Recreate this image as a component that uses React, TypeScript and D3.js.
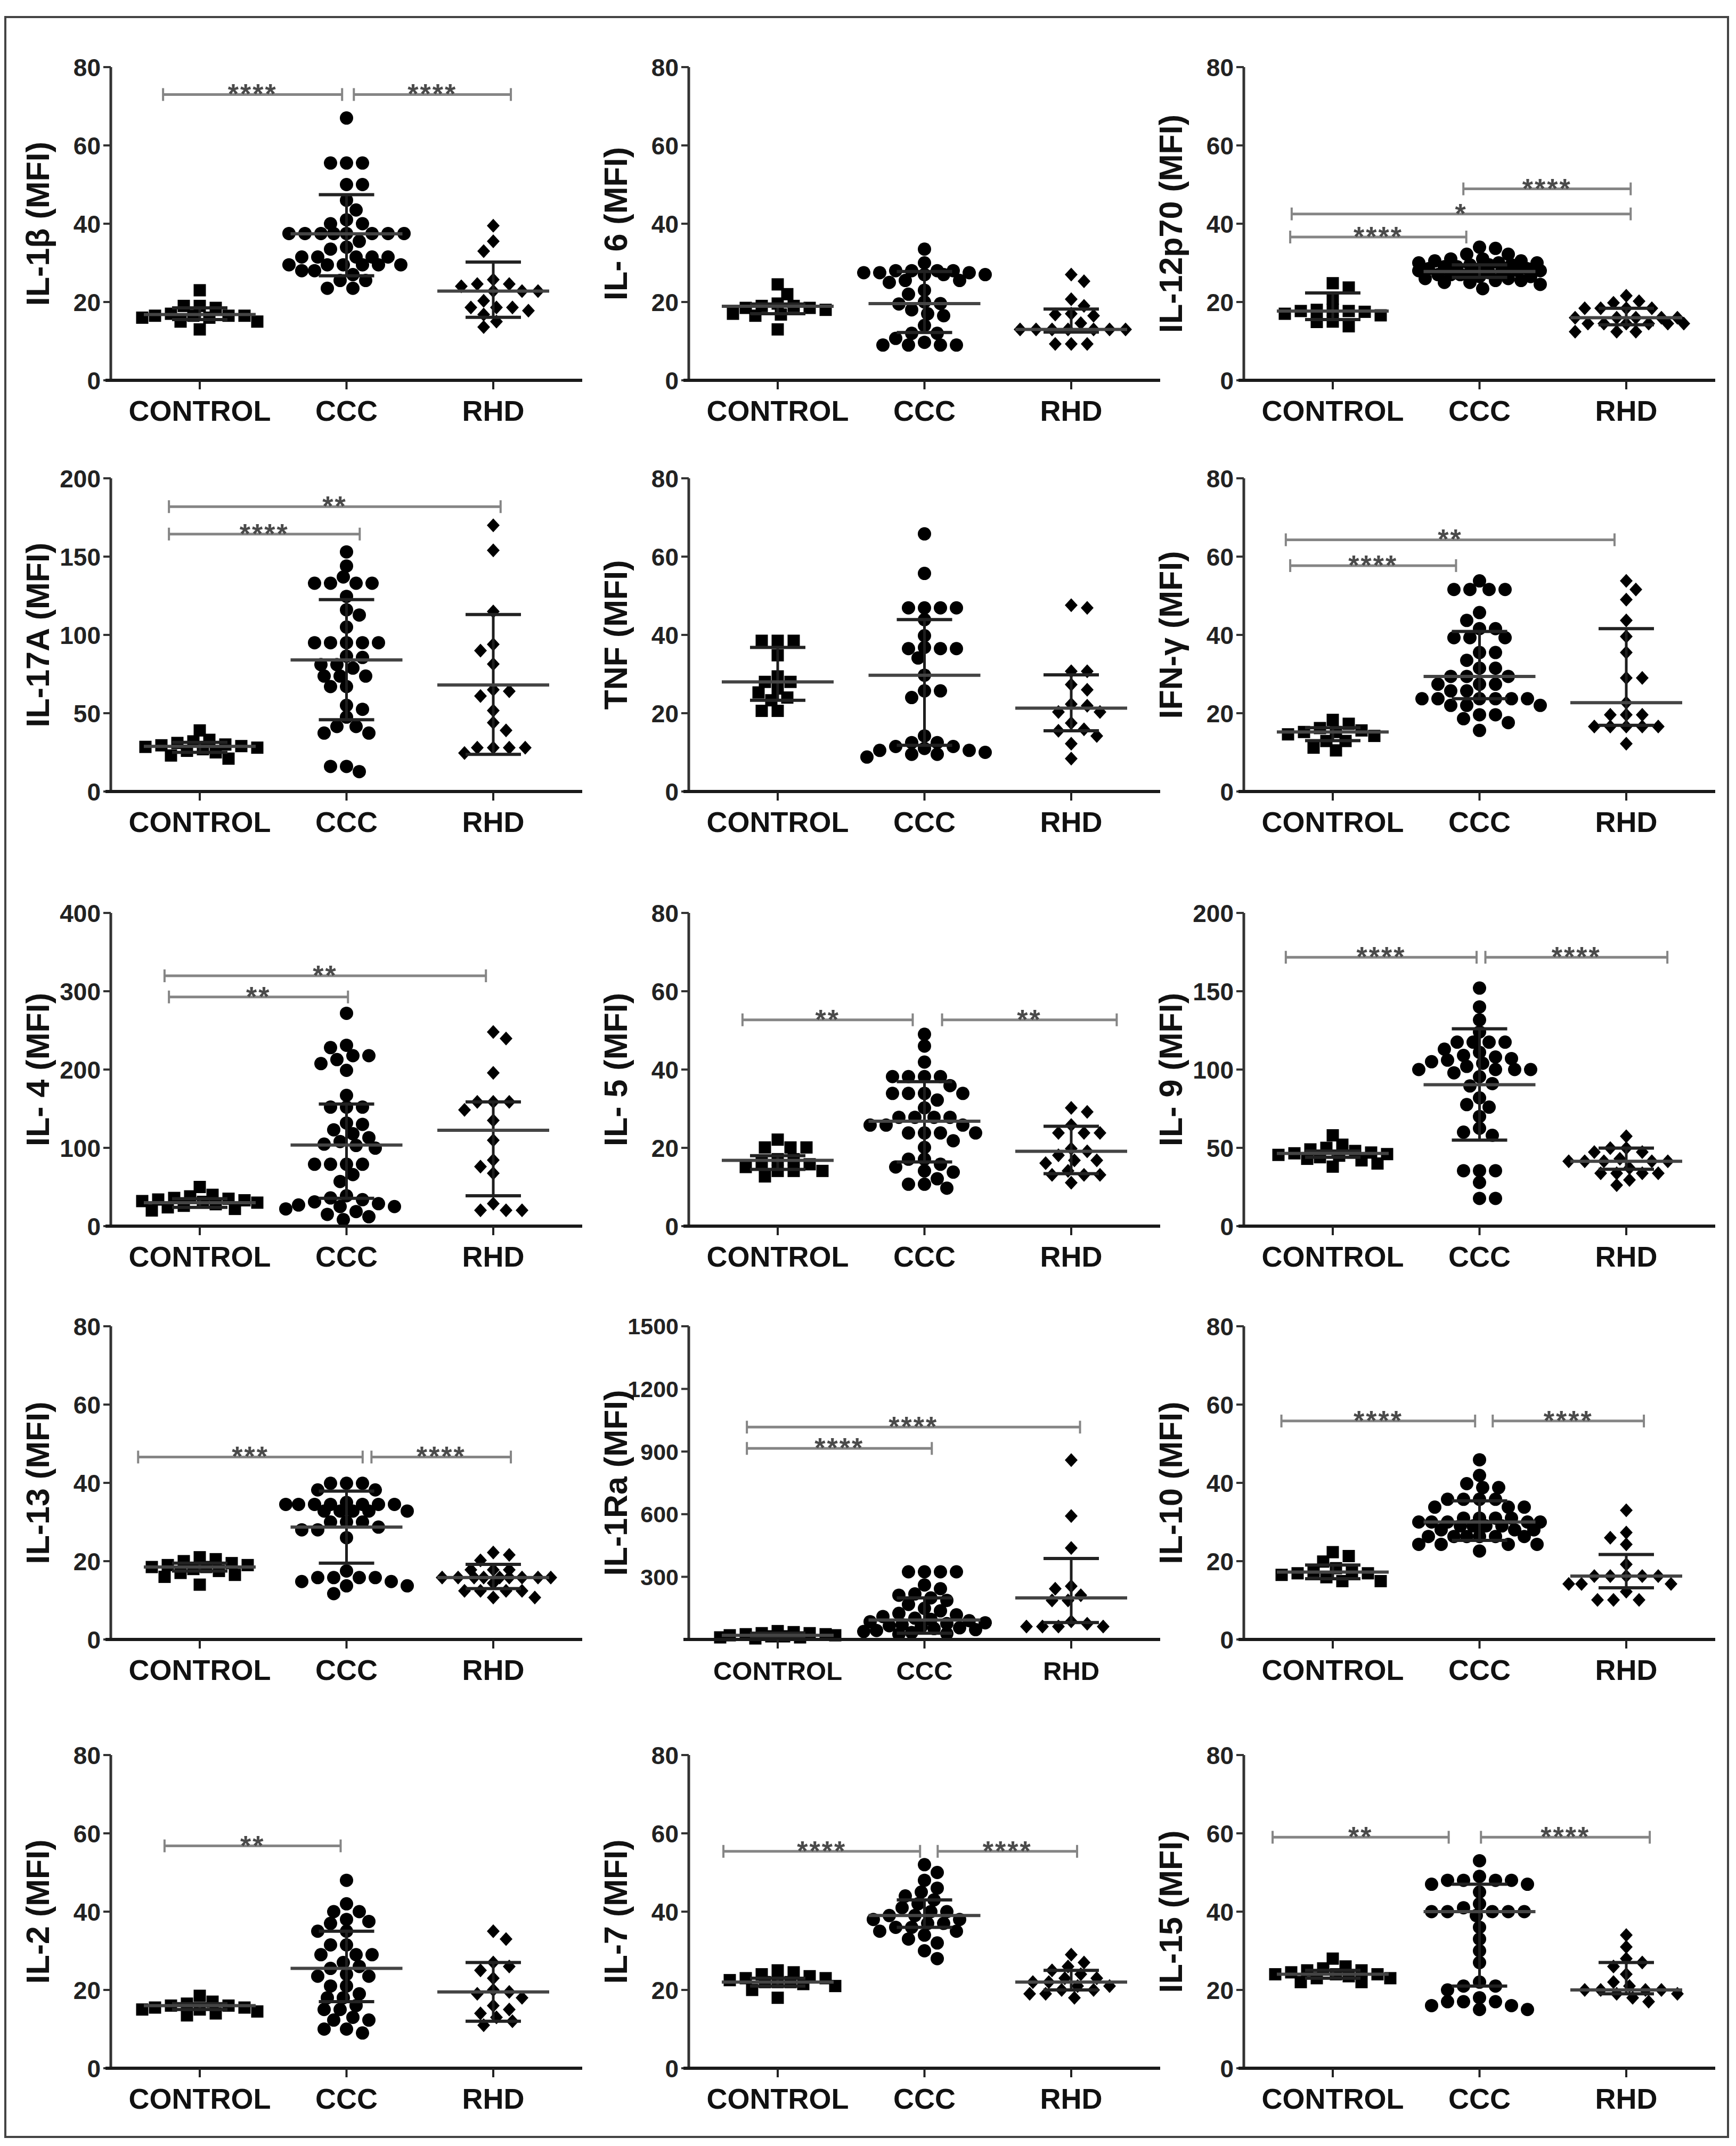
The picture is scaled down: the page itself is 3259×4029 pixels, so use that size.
import React from 'react';
import * as d3 from 'd3';

const W = 3259;
const H = 4029;
const GROUPS = ['CONTROL', 'CCC', 'RHD'];

const TICKS_80 = [0, 20, 40, 60, 80];
const TICKS_200 = [0, 50, 100, 150, 200];
const TICKS_400 = [0, 100, 200, 300, 400];
const TICKS_1500 = [300, 600, 900, 1200, 1500];

// ---------- IL-1β ----------
const IL1B_CONTROL = [23, 19, 19, 18.5, 17, 16.5, 16.5, 16.5, 16.5, 16, 16, 15, 15, 13];
const IL1B_CCC = [67, 55.5, 55.5, 55.5, 50, 50, 46, 43.5, 41, 40, 40, 37.5, 37.5, 37.5, 37.5, 37.5, 37.5, 37.5, 37.5, 35.5, 34, 33.5, 31.5, 31.5, 31.5, 31.5, 31.5, 29.5, 29.5, 29.5, 29.5, 29.5, 29.5, 28, 28, 27, 25.5, 25.5, 23.5, 23.5];
const IL1B_RHD = [39.5, 35.5, 33, 25.7, 24.6, 24.6, 24, 22.8, 22.8, 22.8, 20.3, 18.6, 18.6, 18.6, 17.8, 16.8, 15, 13.6];
const IL1B_SUMMARY = [[16.8, 15.5, 18.5], [37.4, 26.7, 47.4], [22.8, 16.1, 30.2]];
const IL1B_BRACKETS = [[-0.25, 0.97, 73, '****'], [1.05, 2.12, 73, '****']];

// ---------- IL-6 ----------
const IL6_CONTROL = [24.5, 22, 19.6, 19, 19, 18.5, 18.5, 18, 17, 16.8, 16.5, 13];
const IL6_CCC = [33.5, 30, 28, 28, 28, 28, 27.5, 27.5, 27.5, 27, 27, 27, 25.5, 25.5, 25, 23, 22, 20, 19.6, 19.5, 18, 17, 16.5, 14, 12, 12, 10.7, 9.7, 9, 9, 9, 9];
const IL6_RHD = [27, 25.3, 20.7, 19, 17, 16.8, 16.5, 14.6, 13, 13, 13, 13, 13, 13, 13, 9.3, 9.3, 9.3];
const IL6_SUMMARY = [[18.9, 17, 19.5], [19.6, 12.2, 27.8], [13, 12.3, 18.2]];
const IL6_BRACKETS = [];

// ---------- IL-12p70 ----------
const IL12_CONTROL = [24.8, 23.7, 20.9, 18, 18, 17.7, 17.7, 17.5, 17, 16.6, 15, 14.9, 13.8];
const IL12_CCC = [34, 33.7, 32.2, 32.2, 31, 31, 30.5, 30.5, 30, 30, 30, 29.5, 29.5, 29.5, 29, 29, 28.5, 28.5, 28.5, 28, 28, 28, 28, 27.5, 27.5, 27, 27, 27, 26.5, 26.5, 26, 26, 25.5, 25.5, 25, 25, 24.5, 23.4];
const IL12_RHD = [21.6, 20.2, 19.8, 18.4, 18.4, 18.4, 18.4, 16, 16, 16, 16, 16, 14.5, 14.5, 14.5, 14.5, 14.5, 14.5, 12.4, 12.4, 12.4];
const IL12_SUMMARY = [[17.7, 15.5, 22.3], [27.8, 26.3, 29.5], [16, 14.2, 18.4]];
const IL12_BRACKETS = [[0.89, 2.03, 48.9, '****'], [-0.28, 2.03, 42.5, '*'], [-0.29, 0.91, 36.6, '****']];

// ---------- IL-17A ----------
const IL17_CONTROL = [39, 33, 32, 31, 30, 29.5, 29, 28.5, 28, 27, 26, 25, 23, 21];
const IL17_CCC = [153, 144, 137, 133, 133, 133, 133, 124.6, 116, 112.7, 105, 95, 95, 95, 95, 95, 86.4, 85.6, 81, 81, 78.8, 73.7, 73.7, 73.7, 67, 67, 55, 52.5, 47.5, 41.5, 41.5, 37.3, 37.3, 16, 16, 12.7];
const IL17_RHD = [170, 154, 115, 94, 90, 81.4, 65, 64, 61, 51.7, 44, 39, 28, 28, 28, 28, 24.6];
const IL17_SUMMARY = [[28.8, 25, 31.4], [84, 45.8, 122.5], [68, 23.7, 113]];
const IL17_BRACKETS = [[-0.21, 2.05, 181.9, '**'], [-0.21, 1.09, 164.4, '****']];

// ---------- TNF ----------
const TNF_CONTROL = [38.5, 38.5, 38.5, 34.8, 29.4, 28, 28, 26.3, 25.3, 24, 23.3, 20.6, 20.6];
const TNF_CCC = [65.8, 55.7, 46.9, 46.9, 46.9, 46.9, 43.9, 39.8, 36.8, 36.5, 36.5, 36.5, 34.1, 29.7, 25.7, 25.7, 24, 14.2, 12.5, 12.5, 11.5, 11.5, 11, 10.5, 10.5, 10, 9.5, 9.5, 8.8];
const TNF_RHD = [47.6, 46.9, 30.7, 30.7, 27.3, 26, 22.3, 21.9, 20.3, 20.3, 17.5, 15.9, 15.5, 14.2, 12.2, 8.4];
const TNF_SUMMARY = [[28, 23.3, 36.8], [29.7, 11.8, 43.9], [21.3, 15.5, 29.8]];
const TNF_BRACKETS = [];

// ---------- IFN-γ ----------
const IFNG_CONTROL = [18.3, 17.3, 16.2, 15.6, 15.2, 15.2, 14.6, 14.2, 12.9, 12.9, 11.2, 10.5];
const IFNG_CCC = [53.8, 51.6, 51.6, 51.6, 51.6, 45.7, 43.7, 41.6, 41.6, 39.3, 39.3, 39.3, 35.5, 35.5, 33.5, 31.5, 31.5, 29.4, 29.4, 29.4, 27.4, 27.4, 27.4, 25.7, 25.7, 23.7, 23.7, 23.7, 23.7, 23.7, 23.7, 22, 22, 22, 19.6, 19.6, 18.6, 17.6, 15.6];
const IFNG_RHD = [53.8, 51.6, 49, 43.7, 39.6, 35.5, 29, 29, 22.7, 19.6, 19.6, 19.6, 16.6, 16.6, 16.6, 16.6, 16.6, 12.2];
const IFNG_SUMMARY = [[15.2, 13, 16.3], [29.4, 23.7, 40.9], [22.7, 16.9, 41.6]];
const IFNG_BRACKETS = [[-0.32, 1.92, 64.3, '**'], [-0.29, 0.84, 57.7, '****']];

// ---------- IL-4 ----------
const IL4_CONTROL = [50, 40, 38, 36, 35, 34, 33, 32, 31, 30, 28, 26, 24, 22, 20];
const IL4_CCC = [271.8, 231, 228, 217.7, 217.7, 212.7, 207.6, 199, 167, 152, 152, 152, 131.7, 130, 123, 118, 113, 108, 104.7, 103, 99.6, 79, 79, 79, 79, 65.8, 57, 38.8, 36, 33.8, 31, 28.7, 27, 25, 25, 22, 18.6, 15, 12, 8.4];
const IL4_RHD = [248, 239.7, 195.8, 158.7, 158.7, 158.7, 148.5, 135, 109.7, 84.4, 76, 67.5, 28.7, 20.3, 20.3, 20.3];
const IL4_SUMMARY = [[30, 24, 35], [103.6, 35.5, 156], [122.5, 38.8, 158.7]];
const IL4_BRACKETS = [[-0.24, 1.95, 319.7, '**'], [-0.21, 1.01, 292.7, '**']];

// ---------- IL-5 ----------
const IL5_CONTROL = [22.1, 20.1, 20.1, 20.1, 17.1, 17.1, 16.1, 15.8, 15.1, 14.1, 14.1, 14.1, 12.7];
const IL5_CCC = [49, 46, 41.9, 38.2, 38.2, 38.2, 38.2, 35.9, 33.9, 33.9, 33.9, 33.9, 32.2, 30.2, 27.8, 27.8, 27.8, 27.8, 25.8, 25.8, 25.8, 23.8, 23.8, 23.8, 23.8, 21.8, 20.1, 17.1, 17.1, 15.8, 15.1, 14.1, 13.8, 12.1, 10.7, 10.7, 9.7];
const IL5_RHD = [30.2, 29.2, 25.8, 23.8, 23.8, 23.8, 19.8, 19.1, 18.1, 16.8, 16.8, 16.1, 14.1, 13.1, 13.1, 13.1, 11.1];
const IL5_SUMMARY = [[16.8, 14.5, 18], [26.8, 16.4, 36.9], [19.1, 13.4, 25.5]];
const IL5_BRACKETS = [[-0.24, 0.92, 52.7, '**'], [1.12, 2.31, 52.7, '**']];

// ---------- IL-9 ----------
const IL9_CONTROL = [58, 52, 50, 49, 48, 47, 46.5, 46, 45.5, 45, 44, 43, 42, 40, 38];
const IL9_CCC = [152, 140, 131.7, 124, 117.5, 117.5, 117.5, 117.5, 113, 111, 109, 108, 107, 106, 105, 104, 102, 100, 100, 100, 100, 97.9, 95.4, 91, 89.5, 81.9, 77.6, 76, 70, 62.5, 60, 58, 35.4, 35.4, 35.4, 27.9, 17.7, 17.7];
const IL9_RHD = [57.4, 49.8, 49.8, 47.3, 47.3, 43, 41.4, 41.4, 41.4, 41.4, 41.4, 37.1, 33.8, 33.8, 33.8, 33.8, 29.5, 26.2];
const IL9_SUMMARY = [[46.4, 44, 48], [90.3, 54.9, 126], [41.4, 36.3, 49.8]];
const IL9_BRACKETS = [[-0.32, 0.98, 171.7, '****'], [1.04, 2.28, 171.7, '****']];

// ---------- IL-13 ----------
const IL13_CONTROL = [21, 20.5, 20, 19.5, 19, 19, 18.5, 18.5, 18, 17.5, 17, 16.5, 16, 14];
const IL13_CCC = [39.9, 39.9, 39.9, 38.2, 38.2, 35, 34.5, 34.5, 34.5, 34.5, 34.5, 34.5, 34.5, 32.8, 32.8, 32.8, 32.8, 32.8, 30, 30, 30, 28.7, 28, 28, 26, 17.5, 15.8, 15.8, 15.8, 15.8, 14.8, 14.8, 13.7, 13.7, 11.7];
const IL13_RHD = [22.2, 21.6, 20.2, 17.8, 17.8, 17.8, 15.8, 15.8, 15.8, 15.8, 15.8, 15.8, 15.8, 15.8, 15.8, 14.4, 12.4, 12.4, 12.4, 12.4, 10.7, 10.7];
const IL13_SUMMARY = [[18.5, 17.5, 19.5], [28.7, 19.5, 37.9], [15.8, 13, 19.2]];
const IL13_BRACKETS = [[-0.42, 1.11, 46.6, '***'], [1.17, 2.12, 46.6, '****']];

// ---------- IL-1Ra ----------
const IL1RA_CONTROL = [40, 35, 30, 30, 25, 25, 20, 20, 15, 15, 10, 10, 5];
const IL1RA_CCC = [324, 324, 324, 324, 261, 243, 218, 212, 199, 187, 168, 149, 137, 125, 118, 110, 102, 96, 90, 85, 80, 76, 71, 66, 61, 56, 52, 47, 43, 38, 33, 28, 25];
const IL1RA_RHD = [859, 591, 438, 255, 243, 212, 187, 187, 87, 75, 62, 62, 62, 62];
const IL1RA_SUMMARY = [[20, 12, 30], [93, 30, 199], [199, 81, 388]];
const IL1RA_BRACKETS = [[-0.21, 2.06, 1017, '****'], [-0.21, 1.05, 915, '****']];

// ---------- IL-10 ----------
const IL10_CONTROL = [22.3, 21.3, 19.9, 18.2, 17.5, 17.2, 16.9, 16.9, 16.5, 15.9, 14.9, 14.9];
const IL10_CCC = [45.9, 41.9, 39.8, 38.8, 38.8, 35.8, 35.8, 35.8, 35.8, 33.8, 33.8, 33.8, 31, 31, 31, 31, 30, 30, 30, 30, 30, 29, 29, 29, 29, 28, 28, 28, 26.3, 26.3, 26.3, 26.3, 26.3, 26.3, 24.3, 24.3, 24.3, 24.3, 22.6];
const IL10_RHD = [33, 27.3, 26, 24.3, 19.2, 16.2, 16.2, 16.2, 16.2, 16.2, 14.2, 14.2, 14.2, 12.2, 10.1, 10.1, 10.1];
const IL10_SUMMARY = [[17.2, 15.5, 19], [30, 25.3, 35.4], [16.2, 13.2, 21.7]];
const IL10_BRACKETS = [[-0.35, 0.97, 55.8, '****'], [1.09, 2.12, 55.8, '****']];

// ---------- IL-2 ----------
const IL2_CONTROL = [18.5, 17, 16.5, 16, 16, 15.5, 15.5, 15, 15, 14.5, 14, 13.5];
const IL2_CCC = [48, 42, 40, 40, 38, 37.5, 37, 35, 35, 31.5, 31.5, 29, 29, 29, 27, 26, 25.5, 24, 23.5, 23.5, 21, 21, 19, 18, 18, 16, 15, 15, 13, 12.3, 12.3, 10, 10, 9];
const IL2_RHD = [35, 33, 27, 26, 25, 23, 20, 19.5, 19, 18, 16, 15, 14, 13, 12, 11];
const IL2_SUMMARY = [[16, 15, 16.5], [25.5, 17, 35], [19.5, 12, 27]];
const IL2_BRACKETS = [[-0.24, 0.96, 56.8, '**']];

// ---------- IL-7 ----------
const IL7_CONTROL = [25, 24.5, 24, 23.5, 23, 23, 22.5, 22, 22, 22, 21.5, 21, 20, 18];
const IL7_CCC = [52, 50, 48, 46, 45, 44, 43, 42, 41, 40, 40, 39, 39, 38, 38, 37, 37, 36, 36, 35, 35, 34, 33, 32, 30, 28];
const IL7_RHD = [29, 27, 26, 25, 24, 23, 23, 22, 22, 21, 21, 20, 20, 19, 19, 18];
const IL7_SUMMARY = [[22, 21, 23], [39, 36, 43], [22, 20, 25]];
const IL7_BRACKETS = [[-0.37, 0.97, 55.4, '****'], [1.09, 2.04, 55.4, '****']];

// ---------- IL-15 ----------
const IL15_CONTROL = [28, 26, 25.5, 25, 25, 24.5, 24, 24, 24, 23.5, 23, 23, 22, 22];
const IL15_CCC = [53, 49, 48, 48, 48, 48, 47, 47, 45, 42, 41, 40, 40, 40, 40, 40, 39, 36, 33, 30, 27, 22, 21, 21, 20, 18, 17, 17, 17, 16, 16, 15, 15];
const IL15_RHD = [34, 31, 28, 27, 26, 24, 22, 21, 20, 20, 20, 20, 19, 19, 18, 17];
const IL15_SUMMARY = [[24, 23, 25], [40, 21, 47], [20, 19, 27]];
const IL15_BRACKETS = [[-0.41, 0.79, 59, '**'], [1.01, 2.16, 59, '****']];

const PANELS = [
  { title: 'IL-1β (MFI)', max: 80, ticks: TICKS_80, groups: [IL1B_CONTROL, IL1B_CCC, IL1B_RHD], summary: IL1B_SUMMARY, brackets: IL1B_BRACKETS },
  { title: 'IL- 6 (MFI)', max: 80, ticks: TICKS_80, groups: [IL6_CONTROL, IL6_CCC, IL6_RHD], summary: IL6_SUMMARY, brackets: IL6_BRACKETS },
  { title: 'IL-12p70 (MFI)', max: 80, ticks: TICKS_80, groups: [IL12_CONTROL, IL12_CCC, IL12_RHD], summary: IL12_SUMMARY, brackets: IL12_BRACKETS },
  { title: 'IL-17A (MFI)', max: 200, ticks: TICKS_200, groups: [IL17_CONTROL, IL17_CCC, IL17_RHD], summary: IL17_SUMMARY, brackets: IL17_BRACKETS },
  { title: 'TNF (MFI)', max: 80, ticks: TICKS_80, groups: [TNF_CONTROL, TNF_CCC, TNF_RHD], summary: TNF_SUMMARY, brackets: TNF_BRACKETS },
  { title: 'IFN-γ (MFI)', max: 80, ticks: TICKS_80, groups: [IFNG_CONTROL, IFNG_CCC, IFNG_RHD], summary: IFNG_SUMMARY, brackets: IFNG_BRACKETS },
  { title: 'IL- 4 (MFI)', max: 400, ticks: TICKS_400, groups: [IL4_CONTROL, IL4_CCC, IL4_RHD], summary: IL4_SUMMARY, brackets: IL4_BRACKETS },
  { title: 'IL- 5 (MFI)', max: 80, ticks: TICKS_80, groups: [IL5_CONTROL, IL5_CCC, IL5_RHD], summary: IL5_SUMMARY, brackets: IL5_BRACKETS },
  { title: 'IL- 9 (MFI)', max: 200, ticks: TICKS_200, groups: [IL9_CONTROL, IL9_CCC, IL9_RHD], summary: IL9_SUMMARY, brackets: IL9_BRACKETS },
  { title: 'IL-13 (MFI)', max: 80, ticks: TICKS_80, groups: [IL13_CONTROL, IL13_CCC, IL13_RHD], summary: IL13_SUMMARY, brackets: IL13_BRACKETS },
  { title: 'IL-1Ra (MFI)', max: 1500, ticks: TICKS_1500, groups: [IL1RA_CONTROL, IL1RA_CCC, IL1RA_RHD], summary: IL1RA_SUMMARY, brackets: IL1RA_BRACKETS, light: true },
  { title: 'IL-10 (MFI)', max: 80, ticks: TICKS_80, groups: [IL10_CONTROL, IL10_CCC, IL10_RHD], summary: IL10_SUMMARY, brackets: IL10_BRACKETS },
  { title: 'IL-2 (MFI)', max: 80, ticks: TICKS_80, groups: [IL2_CONTROL, IL2_CCC, IL2_RHD], summary: IL2_SUMMARY, brackets: IL2_BRACKETS },
  { title: 'IL-7 (MFI)', max: 80, ticks: TICKS_80, groups: [IL7_CONTROL, IL7_CCC, IL7_RHD], summary: IL7_SUMMARY, brackets: IL7_BRACKETS },
  { title: 'IL-15 (MFI)', max: 80, ticks: TICKS_80, groups: [IL15_CONTROL, IL15_CCC, IL15_RHD], summary: IL15_SUMMARY, brackets: IL15_BRACKETS },
];

// layout
const COL_AXIS_X = [208, 1293, 2335];
const ROW_TOP = [126, 898, 1714, 2490, 3295];
const PLOT_H = 588;
const CAT_START = 167;
const CAT_END = 718;
const AXIS_LEN = 885;
const FONT = "'Liberation Sans', Arial, Helvetica, sans-serif";

// beeswarm layout, bounded in width (dense groups overlap, as in the original)
function swarm(values, yScale, cx, maxOff) {
  const pts = values.map((v) => ({ v, y: yScale(v) })).sort((a, b) => a.y - b.y);
  const placed = [];
  const minDx = 27;
  const minDy = 21;
  const step = 6;
  pts.forEach((p, idx) => {
    let best = cx;
    let bestScore = -1;
    const sign = idx % 2 === 0 ? 1 : -1;
    for (let k = 0; ; k++) {
      const off = k === 0 ? 0 : (k % 2 === 1 ? -sign : sign) * Math.ceil(k / 2) * step;
      if (Math.abs(off) > maxOff) break;
      const x = cx + off;
      let minD = Infinity;
      for (const q of placed) {
        const dx = (q.x - x) / minDx;
        const dy = (q.y - p.y) / minDy;
        const d = dx * dx + dy * dy;
        if (d < minD) minD = d;
      }
      if (minD >= 1) {
        best = x;
        bestScore = minD;
        break;
      }
      if (minD > bestScore + 0.05) {
        bestScore = minD;
        best = x;
      }
    }
    placed.push({ x: best, y: p.y });
  });
  return placed;
}

const squarePath = d3.symbol().type(d3.symbolSquare).size(23 * 23)();
const circlePath = d3.symbol().type(d3.symbolCircle).size(Math.PI * 12.5 * 12.5)();
const diamondPath = 'M0,-13L12,0L0,13L-12,0Z';
const SHAPES = [squarePath, circlePath, diamondPath];
const MAX_OFF = [110, 118, 112];

function Panel({ p, idx }) {
  const col = idx % 3;
  const row = Math.floor(idx / 3);
  const ax = COL_AXIS_X[col];
  const top = ROW_TOP[row];
  const bottom = top + PLOT_H;
  const y = d3.scaleLinear().domain([0, p.max]).range([bottom, top]);
  const x = d3.scalePoint().domain(GROUPS).range([ax + CAT_START, ax + CAT_END]);
  const catPos = d3.scaleLinear().domain([0, 2]).range([ax + CAT_START, ax + CAT_END]);
  const tickFont = p.light ? 43 : 46;
  const catFont = p.light ? 49 : 54;

  return (
    <g>
      {p.groups.map((vals, gi) => {
        const pts = swarm(vals, y, x(GROUPS[gi]), MAX_OFF[gi]);
        return (
          <g key={'g' + gi}>
            {pts.map((pt, i) => (
              <path key={i} d={SHAPES[gi]} transform={`translate(${pt.x},${pt.y})`} fill="#000" />
            ))}
          </g>
        );
      })}
      {p.summary.map((s, gi) => {
        const cx = x(GROUPS[gi]);
        const [med, q1, q3] = s;
        return (
          <g key={'s' + gi}>
            <line x1={cx} x2={cx} y1={y(q1)} y2={y(q3)} stroke="#1e1e1e" strokeWidth={5} />
            <line x1={cx - 52} x2={cx + 52} y1={y(q1)} y2={y(q1)} stroke="#222" strokeWidth={6} />
            <line x1={cx - 52} x2={cx + 52} y1={y(q3)} y2={y(q3)} stroke="#222" strokeWidth={6} />
            <line x1={cx - 105} x2={cx + 105} y1={y(med)} y2={y(med)} stroke="#444" strokeWidth={6} />
          </g>
        );
      })}
      {p.brackets.map((b, bi) => {
        const [from, to, val, label] = b;
        const x1 = catPos(from);
        const x2 = catPos(to);
        const yy = y(val);
        return (
          <g key={'b' + bi}>
            <line x1={x1} x2={x2} y1={yy} y2={yy} stroke="#858585" strokeWidth={5} />
            <line x1={x1} x2={x1} y1={yy - 12} y2={yy + 12} stroke="#858585" strokeWidth={4} />
            <line x1={x2} x2={x2} y1={yy - 12} y2={yy + 12} stroke="#858585" strokeWidth={4} />
            <text x={(x1 + x2) / 2} y={yy + 17} textAnchor="middle" fontSize={52} fontWeight="bold" fill="#4a4a4a" letterSpacing={3} fontFamily={FONT}>{label}</text>
          </g>
        );
      })}
      <line x1={ax} x2={ax} y1={bottom} y2={y(p.ticks[p.ticks.length - 1])} stroke="#333" strokeWidth={5} />
      {p.ticks.map((t) => (
        <g key={'t' + t}>
          <line x1={ax - 14} x2={ax} y1={y(t)} y2={y(t)} stroke="#333" strokeWidth={4} />
          <text x={ax - 19} y={y(t)} dy="0.36em" textAnchor="end" fontSize={tickFont} fontWeight="bold" fill="#222" fontFamily={FONT}>{t}</text>
        </g>
      ))}
      <line x1={ax - 10} x2={ax + AXIS_LEN} y1={bottom} y2={bottom} stroke="#1a1a1a" strokeWidth={6} />
      {GROUPS.map((g) => (
        <g key={g}>
          <line x1={x(g)} x2={x(g)} y1={bottom} y2={bottom + 17} stroke="#222" strokeWidth={4} />
          <text x={x(g)} y={bottom + 76} textAnchor="middle" fontSize={catFont} fontWeight="bold" fill="#111" fontFamily={FONT}>{g}</text>
        </g>
      ))}
      <text transform={`translate(${ax - 138},${(top + bottom) / 2}) rotate(-90)`} dy="0.36em" textAnchor="middle" fontSize={61} fontWeight="bold" fill="#111" fontFamily={FONT}>{p.title}</text>
    </g>
  );
}

export default function App() {
  return (
    <svg width={W} height={H} viewBox={`0 0 ${W} ${H}`} style={{ position: 'absolute', left: 0, top: 0, background: '#fff' }}>
      <rect x={0} y={0} width={W} height={H} fill="#fff" />
      <rect x={10} y={32} width={3234} height={3980} fill="none" stroke="#444" strokeWidth={4} />
      {PANELS.map((p, i) => (
        <Panel key={i} p={p} idx={i} />
      ))}
    </svg>
  );
}
